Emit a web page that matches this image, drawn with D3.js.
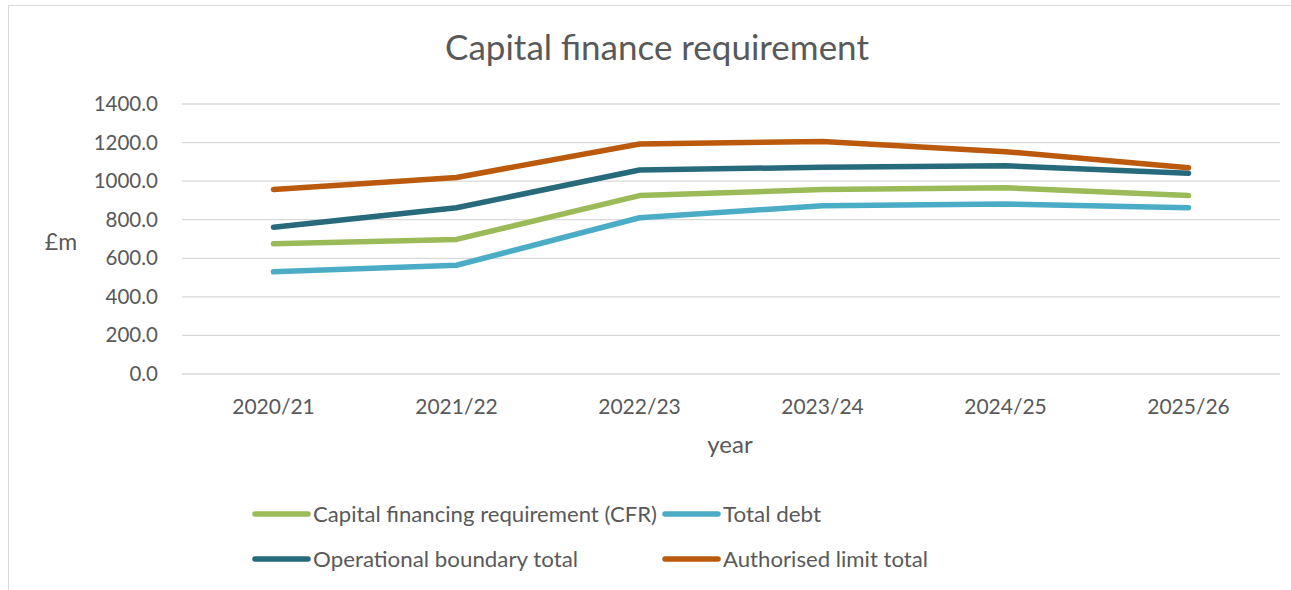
<!DOCTYPE html>
<html><head><meta charset="utf-8">
<script src="https://cdn.jsdelivr.net/npm/d3@7"></script>
<style>body{margin:0;background:#fff;} text{font-family:Lato, "Open Sans", sans-serif;fill:#595959;}</style>
</head><body><svg id="c" width="1291" height="590"></svg>
<script>
const categories = ["2020/21","2021/22","2022/23","2023/24","2024/25","2025/26"];
const cfr = [676, 698, 925, 957, 966, 925];
const totalDebt = [530, 564, 810, 873, 881, 862];
const operational = [761, 862, 1058, 1072, 1080, 1041];
const authorised = [957, 1019, 1193, 1205, 1153, 1070];
const yTicks = [0,200,400,600,800,1000,1200,1400];
const seriesNames = ["Capital financing requirement (CFR)","Total debt","Operational boundary total","Authorised limit total"];
const seriesColors = ["#9BBB59","#4BACC6","#276A7C","#BB5A0C"];

const series = [cfr,totalDebt,operational,authorised].map((v,i)=>({name:seriesNames[i],color:seriesColors[i],values:v}));
const svg = d3.select("#c");
svg.append("rect").attr("x",8.5).attr("y",5.5).attr("width",1285).attr("height",590).attr("fill","#fff").attr("stroke","#d9d9d9");

const L=182,R=1280,T=104,B=374;
const x = d3.scalePoint().domain(categories).range([L,R]).padding(0.5);
const y = d3.scaleLinear().domain([0,1400]).range([B,T]);

svg.append("text").attr("x",657).attr("y",60).attr("text-anchor","middle").style("font-size","35px").text("Capital finance requirement");

const grid = svg.append("g");
grid.selectAll("line").data(yTicks).join("line")
  .attr("x1",L).attr("x2",R).attr("y1",d=>y(d)).attr("y2",d=>y(d))
  .attr("stroke","#d9d9d9").attr("stroke-width",1.3);
grid.selectAll("text").data(yTicks).join("text")
  .attr("x",158).attr("y",d=>y(d)+7).attr("text-anchor","end").style("font-size","20.5px").text(d=>d.toFixed(1));

svg.append("g").selectAll("text").data(categories).join("text")
  .attr("x",d=>x(d)).attr("y",414).attr("text-anchor","middle").style("font-size","21px").text(d=>d);

svg.append("text").attr("x",730).attr("y",453).attr("text-anchor","middle").style("font-size","24px").text("year");
svg.append("text").attr("x",61).attr("y",250).attr("text-anchor","middle").style("font-size","23px").text("£m");

const line = d3.line().x((d,i)=>x(categories[i])).y(d=>y(d));
svg.append("g").selectAll("path").data(series).join("path")
  .attr("d",d=>line(d.values)).attr("fill","none").attr("stroke",d=>d.color)
  .attr("stroke-width",5.5).attr("stroke-linecap","round").attr("stroke-linejoin","round");

const legPos = [[253,514],[663,514],[253,559],[663,559]];
const legW = [344,98,265,205];
const lg = svg.append("g").selectAll("g").data(series).join("g")
  .attr("transform",(d,i)=>`translate(${legPos[i][0]},${legPos[i][1]})`);
lg.append("line").attr("x1",2).attr("x2",55).attr("y1",0).attr("y2",0)
  .attr("stroke",d=>d.color).attr("stroke-width",5.5).attr("stroke-linecap","round");
lg.append("text").attr("x",60).attr("y",8).style("font-size","22px")
  .attr("textLength",(d,i)=>legW[i]).attr("lengthAdjust","spacingAndGlyphs").text(d=>d.name);
</script></body></html>
